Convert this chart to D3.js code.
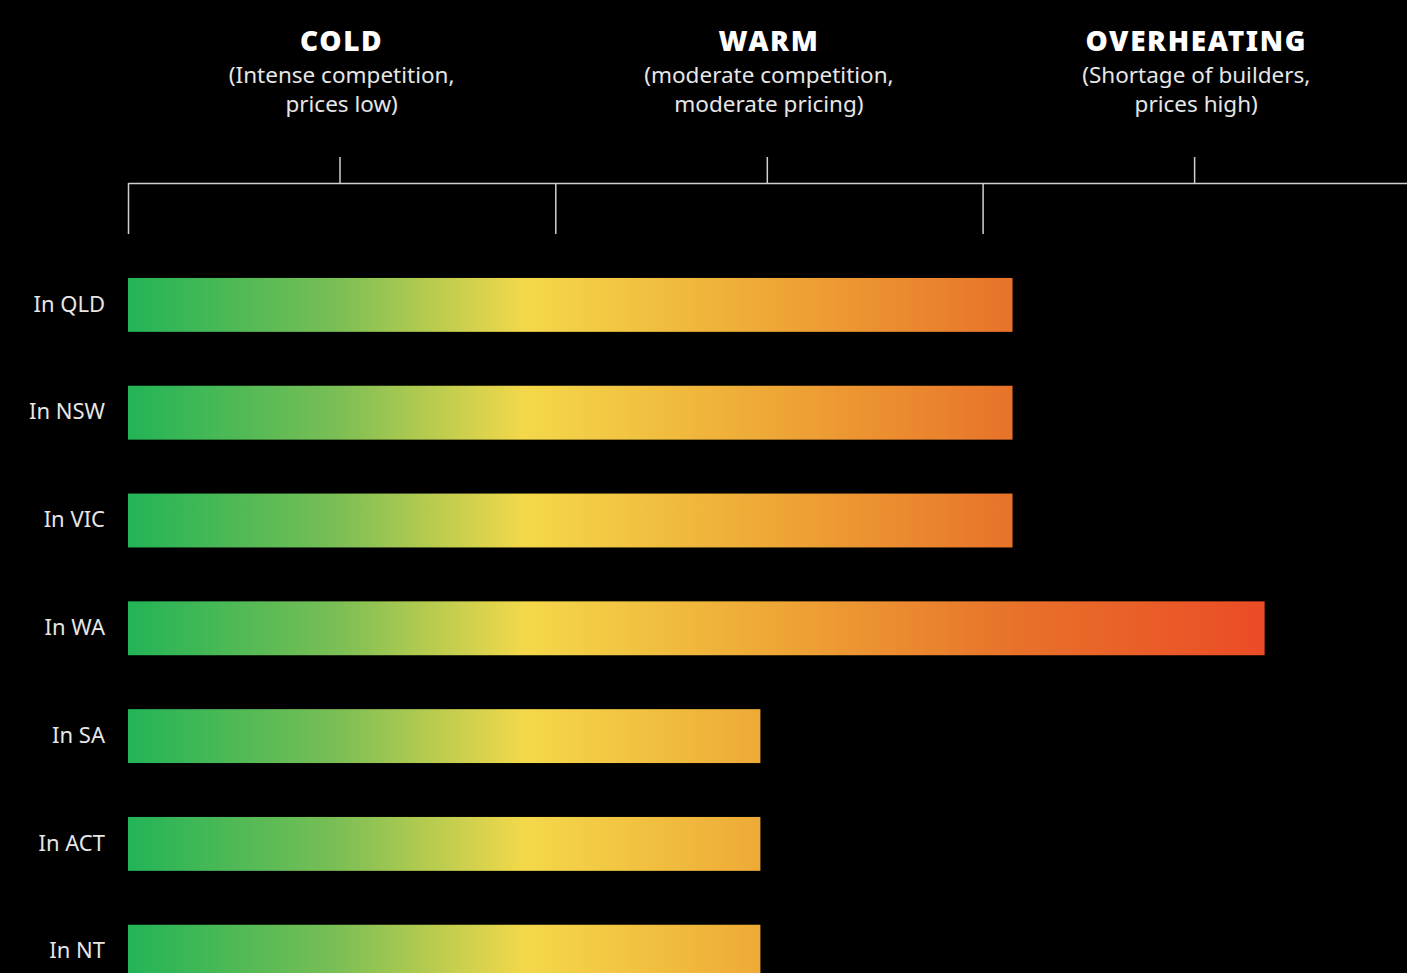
<!DOCTYPE html>
<html>
<head>
<meta charset="utf-8">
<script src="https://cdn.jsdelivr.net/npm/d3@7"></script>
<style>
  html, body { margin: 0; padding: 0; background: #000; }
  svg { display: block; font-family: "Noto Sans", "Open Sans", sans-serif; }
  .zone_title { fill: #fff; font-weight: 900; font-size: 28px; letter-spacing: 1.6px; }
  .zone_sub { fill: #e6e6e6; font-size: 22.5px; }
  .state_label { fill: #e6e6e6; font-size: 22px; }
</style>
</head>
<body>
<svg id="heat_chart" width="1407" height="973"></svg>
<script>
// zones along the scale (each zone spans one unit)
var zones = ["COLD", "WARM", "OVERHEATING"];
var zone_subtitles = [
    ["(Intense competition,", "prices low)"],
    ["(moderate competition,", "moderate pricing)"],
    ["(Shortage of builders,", "prices high)"]
];

var states = ["In QLD", "In NSW", "In VIC", "In WA", "In SA", "In ACT", "In NT"];
var heat_values = [2.07, 2.07, 2.07, 2.66, 1.48, 1.48, 1.48];

var gradient_stops = [
    { offset: 0.00, color: "#22b457" },
    { offset: 0.16, color: "#78be55" },
    { offset: 0.31, color: "#f4d84a" },
    { offset: 0.50, color: "#eea836" },
    { offset: 0.69, color: "#e8722a" },
    { offset: 0.89, color: "#eb4b26" },
    { offset: 1.00, color: "#eb4b26" }
];

function build_heat_chart() {
    const LEFT = 128;
    const AXIS_Y = 183;

    var svg = d3.select("svg#heat_chart");
    var svg_width = +svg.attr("width");

    var xscale = d3.scaleLinear()
        .domain([0, 3])
        .range([LEFT, LEFT + 3 * 427.3]);

    var yscale = d3.scaleBand()
        .domain(states)
        .range([251, 251 + 7 * 107.8])
        .paddingInner(0.5)
        .paddingOuter(0.25);

    // shared gradient across the whole scale
    var grad = svg.append("defs").append("linearGradient")
        .attr("id", "heat_grad")
        .attr("gradientUnits", "userSpaceOnUse")
        .attr("x1", xscale(0)).attr("x2", xscale(3))
        .attr("y1", 0).attr("y2", 0);
    grad.selectAll("stop")
        .data(gradient_stops)
        .enter().append("stop")
        .attr("offset", d => d.offset)
        .attr("stop-color", d => d.color);

    // zone headers
    var headers = svg.append("g").attr("class", "zone_headers");
    zones.forEach(function(zone, i) {
        var cx = xscale(i + 0.5);
        headers.append("text")
            .attr("class", "zone_title")
            .attr("x", cx).attr("y", 51)
            .attr("text-anchor", "middle")
            .text(zone);
        zone_subtitles[i].forEach(function(line, j) {
            headers.append("text")
                .attr("class", "zone_sub")
                .attr("x", cx).attr("y", 83 + j * 28.5)
                .attr("text-anchor", "middle")
                .text(line);
        });
    });

    // axis: long ticks at zone boundaries, short ticks up at zone centres
    var xaxis = d3.axisBottom()
        .scale(xscale.copy().range([LEFT, svg_width + 5]).domain([0, (svg_width + 5 - LEFT) / 427.3]))
        .tickValues([0, 1, 2])
        .tickSize(51)
        .tickFormat("")
        .tickSizeOuter(0);

    var axis_g = svg.append("g")
        .attr("transform", "translate(0," + AXIS_Y + ")")
        .call(xaxis);
    axis_g.selectAll("path, line").attr("stroke", "#d0d0d0").attr("stroke-width", 1.5);

    var centre_axis = d3.axisTop()
        .scale(xscale)
        .tickValues([0.495, 1.495, 2.495])
        .tickSize(26)
        .tickFormat("")
        .tickSizeOuter(0);
    var centre_g = svg.append("g")
        .attr("transform", "translate(0," + AXIS_Y + ")")
        .call(centre_axis);
    centre_g.select(".domain").remove();
    centre_g.selectAll("line").attr("stroke", "#d0d0d0").attr("stroke-width", 1.5);

    // bars
    svg.append("g").attr("class", "bars")
        .selectAll("rect")
        .data(states)
        .enter().append("rect")
        .attr("x", xscale(0))
        .attr("y", d => yscale(d))
        .attr("width", (d, i) => xscale(heat_values[i]) - xscale(0))
        .attr("height", yscale.bandwidth())
        .attr("fill", "url(#heat_grad)");

    // state labels
    svg.append("g").attr("class", "labels")
        .selectAll("text")
        .data(states)
        .enter().append("text")
        .attr("class", "state_label")
        .attr("x", 105)
        .attr("y", d => yscale(d) + yscale.bandwidth() / 2)
        .attr("dy", "0.3em")
        .attr("text-anchor", "end")
        .text(d => d);
}

build_heat_chart();
</script>
</body>
</html>
